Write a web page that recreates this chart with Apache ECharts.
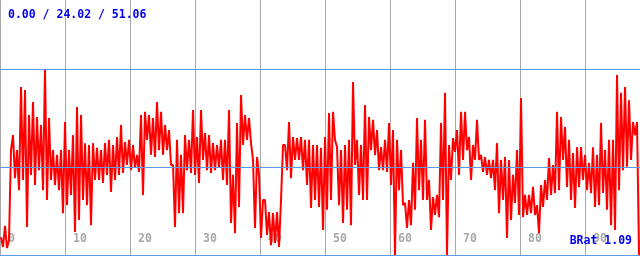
<!DOCTYPE html>
<html>
<head>
<meta charset="utf-8">
<script src="https://cdn.jsdelivr.net/npm/echarts@6/dist/echarts.min.js"></script>
<style>
  html, body { margin: 0; padding: 0; background: #fff; }
  #chart { width: 640px; height: 256px; }
</style>
</head>
<body>
<div id="chart"></div>
<script>
// min / avg / max of the trace
var stats = [0.00, 24.02, 51.06];
var ratio = 1.09;
var xTicks = [0, 10, 20, 30, 40, 50, 60, 70, 80, 90];

// two samples per 4px column
var values = [
  4.9, 2.2, 8.0, 1.9, 4.1, 28.8, 32.9, 21.1, 28.8, 17.8, 46.1, 20.6, 45.3, 7.7, 38.4, 22.0, 42.0, 19.2, 37.9, 23.3,
  35.7, 17.8, 50.8, 15.1, 37.6, 20.6, 28.8, 19.2, 27.5, 17.8, 28.8, 11.5, 36.5, 13.7, 28.8, 16.5, 32.9, 6.3, 40.6, 9.6,
  38.4, 15.1, 30.7, 13.7, 30.2, 8.2, 30.7, 20.6, 29.4, 20.6, 28.8, 19.8, 30.7, 22.0, 31.6, 17.3, 30.2, 20.6, 32.4, 22.0,
  35.7, 22.5, 31.0, 24.7, 31.6, 23.3, 30.2, 23.9, 27.5, 22.8, 38.4, 16.5, 39.3, 31.6, 38.4, 27.5, 37.6, 26.9, 42.0, 28.8,
  39.3, 27.5, 35.7, 28.8, 34.3, 24.7, 24.7, 7.7, 31.6, 11.5, 27.5, 11.5, 32.9, 23.3, 31.6, 22.5, 39.8, 22.0, 32.4, 19.8,
  39.8, 26.1, 33.5, 23.3, 32.9, 22.5, 30.7, 23.3, 30.2, 23.9, 31.6, 20.6, 31.6, 19.2, 39.8, 8.8, 22.0, 6.0, 36.2, 13.2,
  43.9, 30.2, 38.4, 31.6, 37.6, 30.7, 26.1, 7.4, 26.9, 22.0, 4.7, 15.1, 15.1, 5.5, 11.8, 2.7, 11.5, 3.3, 11.8, 2.2,
  15.1, 30.2, 30.2, 23.3, 36.5, 21.1, 32.4, 26.1, 32.1, 26.1, 32.4, 23.3, 31.6, 19.2, 31.6, 12.9, 30.2, 15.1, 30.2, 13.2,
  29.4, 6.9, 32.4, 12.4, 39.0, 15.1, 39.3, 31.6, 29.6, 13.7, 28.8, 8.8, 30.2, 12.4, 31.6, 8.2, 47.5, 24.7, 31.6, 16.5,
  30.2, 15.1, 41.2, 15.1, 37.9, 28.8, 37.1, 27.5, 34.3, 23.3, 29.6, 23.3, 31.6, 22.8, 36.2, 19.2, 34.3, 0.0, 31.6, 17.8,
  28.8, 13.7, 14.3, 7.4, 15.1, 8.2, 25.3, 12.4, 37.6, 17.8, 31.6, 15.1, 37.1, 15.1, 20.6, 6.9, 15.9, 11.0, 16.5, 10.4,
  36.2, 15.1, 44.5, 0.0, 30.2, 20.6, 32.1, 28.3, 34.3, 22.0, 39.3, 26.1, 39.3, 28.8, 32.4, 20.6, 30.2, 26.1, 37.1, 26.1,
  27.5, 22.8, 26.9, 22.0, 26.1, 21.1, 26.1, 17.8, 30.7, 11.5, 26.1, 15.1, 26.9, 4.7, 26.1, 9.6, 22.0, 14.3, 28.8, 11.0,
  43.1, 10.4, 16.5, 11.0, 16.5, 11.5, 18.7, 11.0, 13.7, 6.0, 19.2, 13.2, 20.6, 15.1, 26.6, 16.5, 24.7, 17.0, 39.3, 17.8,
  37.9, 26.1, 35.1, 18.7, 31.6, 15.1, 28.0, 12.9, 29.6, 18.7, 29.6, 20.6, 27.5, 17.8, 25.3, 17.0, 29.6, 13.2, 27.5, 13.7,
  36.2, 17.0, 28.8, 12.4, 31.6, 8.2, 31.6, 6.9, 49.4, 17.8, 44.5, 23.3, 46.1, 24.2, 42.5, 26.1, 36.5, 32.9, 36.5, 0.0
];
var xStart = 0.154;
var xStep = 0.3077;

var myChart = echarts.init(document.getElementById('chart'), null, { renderer: 'canvas' });

var points = values.map(function (v, i) { return [xStart + i * xStep, v]; });
var blue = '#5f98e6';

var option = {
  animation: false,
  backgroundColor: '#ffffff',
  grid: { left: 0, right: 0, top: 0, bottom: 1 },
  xAxis: {
    type: 'value',
    min: 0,
    max: 640 / 6.5,
    interval: 10,
    axisLine: { show: false },
    axisTick: { show: false },
    splitLine: { show: true, lineStyle: { color: '#a8a8a8', width: 1 } },
    axisLabel: {
      inside: true,
      showMaxLabel: false,
      align: 'left',
      margin: 10,
      padding: [0, 0, 0, 8],
      color: '#a8a8a8',
      fontFamily: 'DejaVu Sans Mono',
      fontWeight: 'bold',
      fontSize: 11.5,
      formatter: function (v) { return xTicks.indexOf(v) >= 0 ? String(v) : ''; }
    }
  },
  yAxis: {
    type: 'value',
    min: 0,
    max: 70,
    axisLine: { show: false },
    axisTick: { show: false },
    axisLabel: { show: false },
    splitLine: { show: false }
  },
  series: [{
    type: 'line',
    data: points,
    showSymbol: false,
    sampling: false,
    lineStyle: { color: '#ff0000', width: 2 },
    markLine: {
      silent: true,
      symbol: 'none',
      label: { show: false },
      lineStyle: { color: blue, width: 1, type: 'solid', opacity: 1 },
      data: stats.map(function (s) { return { yAxis: s }; })
    },
    z: 3
  }],
  graphic: [
    {
      type: 'text', left: 8, top: 9, z: 10,
      style: {
        text: stats.map(function (s) { return s.toFixed(2); }).join(' / '),
        fill: '#0000ee',
        font: 'bold 11.5px "DejaVu Sans Mono"'
      }
    },
    {
      type: 'text', right: 8, top: 235, z: 10,
      style: {
        text: 'BRat ' + ratio.toFixed(2),
        fill: '#0000ee',
        font: 'bold 11.5px "DejaVu Sans Mono"'
      }
    }
  ]
};

myChart.setOption(option);
window.onresize = function () { myChart.resize(); };
</script>
</body>
</html>
